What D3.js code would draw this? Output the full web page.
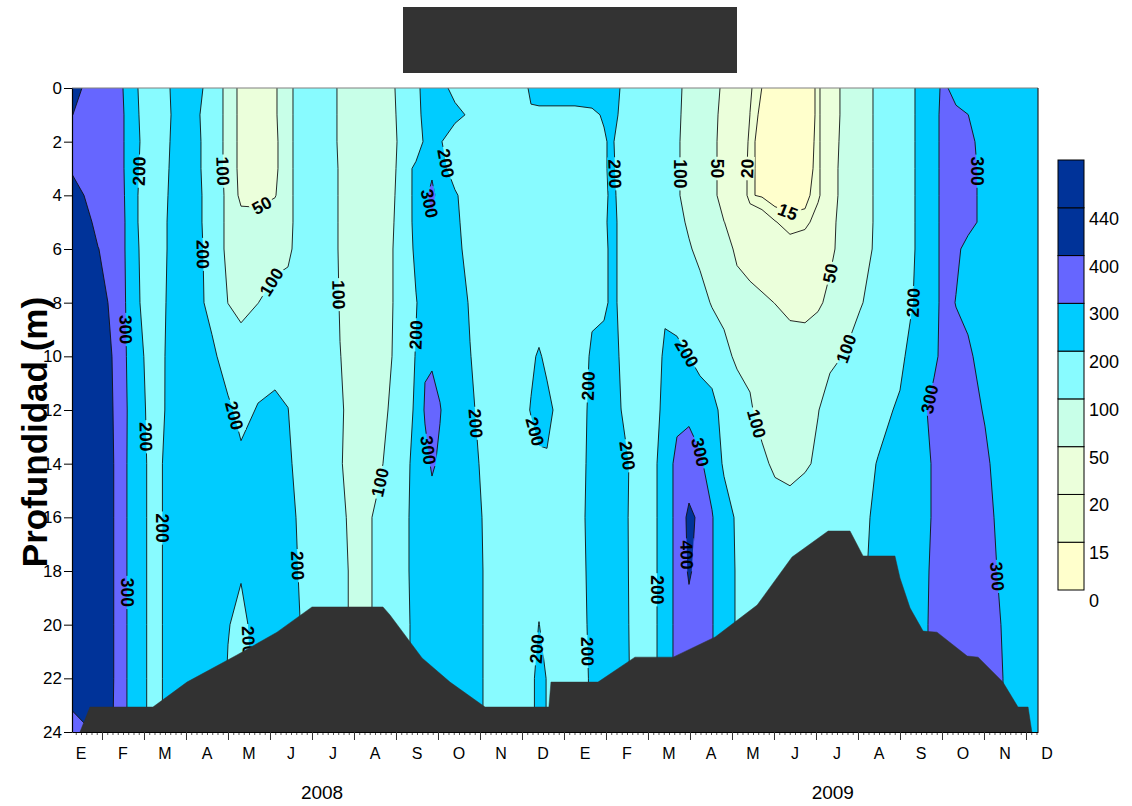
<!DOCTYPE html>
<html>
<head>
<meta charset="utf-8">
<script src="https://cdn.jsdelivr.net/npm/d3@7"></script>
<style>
  body { margin: 0; background: #fff; }
  text { font-family: "Liberation Sans", Arial, Helvetica, sans-serif; }
</style>
</head>
<body>
<svg id="chart" width="1132" height="806"></svg>
<script>
// ---------------------------------------------------------------
// Sampling grid: time in months since 1 Jan 2008, depth in metres
// ---------------------------------------------------------------
const sampleMonths = [
  0.286, 0.905, 1.405, 1.690, 2.214, 3.000,
  3.619, 4.000, 4.310, 4.714, 5.119, 5.429, 5.714, 6.190, 6.667, 7.190,
  7.619, 8.095, 8.476, 8.690, 8.857, 9.048, 9.405, 9.762, 10.119, 10.595,
  11.000, 11.214, 11.405, 11.595, 11.810, 12.262, 12.667, 12.952, 13.143, 13.357, 13.810,
  14.167, 14.405, 14.690, 14.976, 15.238, 15.524, 15.810, 16.119, 16.429, 16.714, 17.024,
  17.381, 17.738, 18.048, 18.333, 18.690, 19.048, 19.476, 20.000, 20.476, 20.810, 21.048,
  21.333, 21.619, 22.024, 22.619, 23.286
];
const sampleDepths = [0, 1, 2, 3, 4, 5, 6, 8, 10, 12, 14, 16, 18, 20, 22, 24];

// measured values, one row per depth (same order as sampleMonths)
const at0m  = [420,368,337.5,224.8,146.8,250, 173.5,66.6,42.6,30,47.4,64.3,150,128,95,75, 80,106.7,168,240,250,240,165,150,150,150, 170,215,230,230,230,230,230,230,230,196.3,150, 150,140,115,79,70,60,45,35,21,14.9,10,8,10,16.5,37.5,56.3,75,109.6,150,216.7,260,326.7,246.7,240,240,240,250];
const at1m  = [401,370,346.8,234.4,139.8,250, 157,74.1,39.3,30,47.4,64.3,150,128,95,75, 80,105,150,240,250,250,230,185,150,150, 165,190,185,185,185,185,190,205,240,180,150, 150,140,110.5,79,70,60,40,35,19.9,12.6,10,8,10,16.5,37.5,56.3,75,109.6,150,216.7,260,340,330,301,250,240,250];
const at2m  = [370,360,345.1,236.9,146.8,250, 163.3,71.2,40.6,30,45.7,64.3,150,128,95,75, 80,103.5,112.6,225,240,210,135,150,150,150, 150,150,150,150,150,150,170,194,210,165,150, 150,140,107,79,70,60,36,35,17.3,11.8,9,7,10,17.2,34,60.7,75,109.6,150,216.7,260,340,340,330,256.8,240,250];
const at3m  = [392,360,352.3,226.9,153,250, 163.3,71.2,40.6,30,45.7,64.3,150,145,95,75, 80,105,231.7,260,280,250,143,150,150,150, 150,150,150,150,150,150,170,191,215,170,150, 150,140,107,79,70,60,36,35,15.5,14.3,8,6,10,18.1,29.5,67.9,75,109.6,150,216.7,260,340,340,330,273.4,240,250];
const at4m  = [430,365,368.1,219.4,158.4,250, 168.7,77.1,41.9,42,48.8,64.3,150,145,95,75, 80,106.7,231.7,280,326.7,255.5,215,140,150,150, 150,150,150,150,150,150,170,185,215,181,150, 150,140,107,79,70,60,36,35,15.5,14.3,11,12,13,18.2,29,68.4,75,109.6,150,216.7,260,340,340,330,273.4,240,250];
const at5m  = [435,389.5,382.6,217.3,163,250, 168.7,77.1,62,60,62,64.3,150,145,95,75, 80,108.6,230.5,270,290,260,225,150,150,150, 150,150,150,150,150,150,170,191,215,188,150, 150,140,115,92.5,80,65,50.5,38,30,25,20.5,16.7,17,24.8,35,72.5,75,109.6,150,216.7,260,340,340,330,273.4,240,250];
const at6m  = [435,401,378.8,221.2,163,250, 173.5,75.5,68,68,70,75,150,145,95,75, 80,110.8,220.6,260,270,260,240,154.3,150,150, 150,150,150,150,150,150,170,185,215,188,150, 150,140,125,105,86.7,78,70,41.1,35,30,28,24,28,35,42,66,80,109.6,150,216.7,260,340,320,270,240,240,250];
const at8m  = [430,404.5,395,222.5,167.5,250, 177.8,99,70,99,130,150,160,150,97.4,75, 80,110.8,195,240,260,260,250,192.3,150,150, 150,150,150,150,150,150,190,185,215,188,150, 150,180,150,130,120,96,85,70,60,55,49.5,40,35,44,59,75,95,125,160,221.5,260,340,296.4,270,240,240,250];
const at10m = [430,406,397,240,171.5,250, 215,167,150,170,175,180,160,150,101,75, 80,113.3,205.8,290,285,270,250,203,158,150, 150,185,210,180,150,160,208.5,230,230,191.4,150, 150,221.4,230,199.5,160,140,115,90.6,80,75,72,70,75,80,90,102.5,130,150,180,260,280,330,340,320,252,240,250];
const at12m = [430,405,398,255,172,250, 250,212.5,180,204.4,215,201,170,150,105,75, 80,130,216,310.5,340,305,230,220,160,150, 170,205,230,225,187.5,170,212.5,240,240,200.5,150, 150,250,260,280,270,240,160,130,110,70,75,75,85,98,122,140,150,175,211.7,270,330,350,350,340,291.4,240,250];
const at14m = [430,406,398,250,180,250, 250,240,215,240,240,215,170,150,103,75, 90,156.7,226,270,312,285,260,240,173.3,150, 150,160,185,190,160,170,216.4,250,250,235,150, 195,220,340,345,310,270,186,160,140,120,82.8,65,90,111.7,140,150,170,203.8,240,270,308.2,340,360,360,320,220,250];
const at16m = [430,406,398,250,180,250, 250,240,230,240,240,230,185,150,110,75, 120,150,238.9,260,260,260,260,250,187.5,150, 150,150,150,150,150,170,221,250,250,230,150, 195,220,340,420,383.3,305,245,186.5,160,150,150,150,150,150,150,160,170,224,250,270,308.2,340,360,360,330,246.7,250];
const at18m = [430,406,398,250,180,250, 250,225,205,240,240,235,193,150,115,75, 120,150,238.9,260,260,260,260,250,192.3,150, 150,150,150,150,150,170,216.4,250,250,232,150, 195,220,340,410,370,305,245,191.8,160,150,150,150,150,150,150,160,180,230,250,270,316.7,340,360,360,330,267.5,250];
const at20m = [430,406,398,250,180,250, 250,203,183.5,223.7,240,240,201,150,115,75, 120,150,230,260,260,260,260,250,192.3,150, 150,150,203,150,150,170,212.5,250,250,235,150, 195,220,340,370,360,305,245,191.8,160,150,150,150,150,150,150,160,180,230,250,270,322.5,340,360,360,330,283,250];
const at22m = [430,406,398,250,180,250, 250,195,175,220,240,240,201,150,115,75, 120,150,230,260,260,260,260,250,192.3,150, 150,170,240,195,150,170,208,250,250,240,150, 195,220,340,370,360,305,245,191.8,160,150,150,150,150,150,150,160,180,230,250,270,322.5,340,360,360,330,288.3,250];
const at24m = [380,405,398,250,180,250, 250,195,175,220,240,240,201,150,115,75, 120,150,230,260,260,260,260,250,192.3,150, 150,170,240,195,150,170,208,250,250,240,150, 195,220,340,370,360,305,245,191.8,160,150,150,150,150,150,150,160,180,230,250,270,322.5,340,360,360,330,288.3,250];
const valueRows = [at0m, at1m, at2m, at3m, at4m, at5m, at6m, at8m, at10m, at12m, at14m, at16m, at18m, at20m, at22m, at24m];

// contour levels and their fill colours
const levels = [0, 15, 20, 50, 100, 200, 300, 400, 440];
const levelColors = ["#ffffcc", "#eeffd4", "#ebffdb", "#c8ffe8", "#88fbff", "#00ccff", "#6666ff", "#003399", "#003399"];

// bottom profile (month, depth)
const floorMonths = [0.476, 0.714, 2.214, 3.024, 4.214, 5.167, 6.0, 7.69, 7.857, 8.62, 9.286, 10.12, 11.64, 11.69, 12.81, 13.69, 14.6, 15.6, 16.6, 17.43, 18.29, 18.81, 19.12, 19.88, 20.0, 20.24, 20.55, 20.88, 21.6, 21.86, 22.45, 22.81, 23.05, 23.14];
const floorDepths = [24.0, 23.07, 23.07, 22.14, 21.13, 20.28, 19.34, 19.34, 19.64, 21.24, 22.14, 23.07, 23.07, 22.14, 22.14, 21.21, 21.21, 20.46, 19.27, 17.48, 16.51, 16.51, 17.44, 17.44, 18.26, 19.38, 20.24, 20.28, 21.17, 21.21, 22.14, 23.07, 23.07, 24.0];

// contour labels: level, month, depth
const labelAnchors = [
  [200, 1.90, 3.1], [100, 3.86, 3.1], [50, 4.76, 4.25], [200, 3.40, 6.2], [100, 5.0, 7.2],
  [300, 1.57, 9.0], [100, 6.67, 7.7], [200, 4.17, 12.2], [200, 2.02, 13.0], [200, 2.45, 16.4],
  [300, 1.62, 18.8], [200, 5.64, 17.8], [200, 4.40, 20.6], [100, 7.62, 14.7], [200, 9.21, 2.8],
  [300, 8.81, 4.3], [200, 8.50, 9.2], [300, 8.76, 13.5], [200, 9.88, 12.5], [200, 11.31, 12.8],
  [200, 11.33, 20.9], [200, 13.17, 3.2], [200, 12.50, 11.1], [200, 13.52, 13.7], [200, 12.50, 21.0],
  [100, 14.76, 3.2], [200, 14.69, 10.1], [200, 14.21, 18.7], [300, 15.17, 13.6], [400, 14.93, 17.4],
  [50, 15.64, 3.0], [20, 16.36, 3.0], [15, 17.31, 4.7], [50, 18.33, 6.9], [100, 18.69, 9.7],
  [100, 16.60, 12.5], [200, 20.31, 8.0], [300, 21.83, 3.1], [300, 20.71, 11.6], [300, 22.33, 18.2]
];

const monthLetters = ["E", "F", "M", "A", "M", "J", "J", "A", "S", "O", "N", "D"];
const years = ["2008", "2009"];
const depthTicks = d3.range(0, 25, 2);

// ---------------------------------------------------------------
const svg = d3.select("#chart");
const plot = { left: 72, right: 1038, top: 88, bottom: 732 };
const labelSize = 17.5;

const x = d3.scaleLinear()
  .domain([sampleMonths[0], sampleMonths[sampleMonths.length - 1]])
  .range([plot.left, plot.right]);
const y = d3.scaleLinear().domain([0, 24]).range([plot.top, plot.bottom]);

const n = sampleMonths.length, m = sampleDepths.length;
const colToMonth = d3.scaleLinear().domain(d3.range(n)).range(sampleMonths);
const rowToDepth = d3.scaleLinear().domain(d3.range(m)).range(sampleDepths);
const toPixel = ([gx, gy]) => [x(colToMonth(gx - 0.5)), y(rowToDepth(gy - 0.5))];

const contours = d3.contours().size([n, m]).thresholds(levels)(valueRows.flat());
const projection = d3.geoTransform({
  point(gx, gy) { const p = toPixel([gx, gy]); this.stream.point(p[0], p[1]); }
});
const path = d3.geoPath(projection);

const defs = svg.append("defs");
defs.append("clipPath").attr("id", "plotClip").append("rect")
  .attr("x", plot.left).attr("y", plot.top)
  .attr("width", plot.right - plot.left).attr("height", plot.bottom - plot.top);

// filled bands
svg.append("g").attr("clip-path", "url(#plotClip)")
  .selectAll("path").data(contours).join("path")
  .attr("d", path)
  .attr("fill", d => levelColors[levels.indexOf(d.value)])
  .attr("stroke", "none");

// label placement on the contour lines
function anchorOnLine(level, month, depth) {
  const c = contours.find(k => k.value === level);
  const tx = x(month), ty = y(depth);
  const inside = p => p[0] > plot.left + 1 && p[0] < plot.right - 1 && p[1] > plot.top + 1 && p[1] < plot.bottom - 1;
  let best = null;
  c.coordinates.forEach(poly => poly.forEach(ring => {
    const pts = ring.map(toPixel);
    for (let i = 0; i < pts.length - 1; i++) {
      const a = pts[i], b = pts[i + 1];
      if (!inside(a) || !inside(b)) continue;
      const dx = b[0] - a[0], dy = b[1] - a[1];
      const L2 = dx * dx + dy * dy;
      if (!L2) continue;
      let u = ((tx - a[0]) * dx + (ty - a[1]) * dy) / L2;
      u = Math.max(0, Math.min(1, u));
      const px = a[0] + u * dx, py = a[1] + u * dy;
      const dist = Math.hypot(px - tx, py - ty);
      if (!best || dist < best.dist) best = { dist, px, py, angle: Math.atan2(dy, dx) * 180 / Math.PI };
    }
  }));
  if (!best) return null;
  let a = best.angle;
  if (a > 90) a -= 180;
  if (a <= -90) a += 180;
  return { x: best.px, y: best.py, angle: a, text: String(level) };
}
const placed = labelAnchors.map(([lv, mo, de]) => anchorOnLine(lv, mo, de)).filter(Boolean);
const gapWidth = d => d.text.length * 0.556 * labelSize + 4;

// gaps in the lines under each label
const mask = defs.append("mask").attr("id", "lineGaps")
  .attr("maskUnits", "userSpaceOnUse").attr("x", 0).attr("y", 0).attr("width", 1132).attr("height", 806);
mask.append("rect").attr("width", 1132).attr("height", 806).attr("fill", "#fff");
mask.selectAll("rect.gap").data(placed).join("rect").attr("class", "gap")
  .attr("x", d => -gapWidth(d) / 2).attr("y", -7.5)
  .attr("width", gapWidth).attr("height", 15)
  .attr("transform", d => `translate(${d.x},${d.y}) rotate(${d.angle})`)
  .attr("fill", "#000");

// contour lines
svg.append("g").attr("clip-path", "url(#plotClip)")
  .append("g").attr("mask", "url(#lineGaps)")
  .selectAll("path").data(contours.filter(d => d.value > 0)).join("path")
  .attr("d", path)
  .attr("fill", "none")
  .attr("stroke", "#111")
  .attr("stroke-width", 0.9)
  .attr("stroke-linejoin", "round");

// contour labels
svg.append("g").attr("clip-path", "url(#plotClip)")
  .selectAll("text").data(placed).join("text")
  .attr("transform", d => `translate(${d.x},${d.y}) rotate(${d.angle})`)
  .attr("text-anchor", "middle")
  .attr("dy", "0.36em")
  .attr("font-size", labelSize)
  .attr("font-weight", "bold")
  .attr("fill", "#000")
  .text(d => d.text);

// sea floor
const floorLine = d3.line().x(d => x(d[0])).y(d => y(d[1]));
svg.append("path").attr("clip-path", "url(#plotClip)")
  .attr("d", floorLine(floorMonths.map((mo, i) => [mo, floorDepths[i]])) + "Z")
  .attr("fill", "#323232").attr("stroke", "#323232").attr("stroke-width", 0.5);

// frame
svg.append("line").attr("x1", plot.left).attr("x2", plot.right).attr("y1", plot.top).attr("y2", plot.top)
  .attr("stroke", "#808080").attr("stroke-width", 1.2);
svg.append("line").attr("x1", plot.right).attr("x2", plot.right).attr("y1", plot.top).attr("y2", plot.bottom)
  .attr("stroke", "#222").attr("stroke-width", 1.2);

// depth axis
const yAxis = svg.append("g").attr("transform", `translate(${plot.left},0)`)
  .call(d3.axisLeft(y).tickValues(depthTicks).tickSize(8).tickSizeOuter(0).tickPadding(2));
yAxis.selectAll("text").attr("font-size", 17).attr("fill", "#000")
  .attr("font-family", "'Liberation Sans', Arial, sans-serif");
yAxis.select(".domain").attr("stroke", "#000").attr("stroke-width", 1.2);

// time axis: minor ticks, then month ticks
const minorMonths = d3.range(Math.ceil(sampleMonths[0] * 8), Math.floor(sampleMonths[n - 1] * 8) + 1).map(k => k / 8);
svg.append("g").attr("transform", `translate(0,${plot.bottom})`)
  .call(d3.axisBottom(x).tickValues(minorMonths).tickSize(3).tickSizeOuter(0).tickFormat(""))
  .call(g => g.select(".domain").remove())
  .selectAll(".tick line").attr("stroke", "#555");
const xAxis = svg.append("g").attr("transform", `translate(0,${plot.bottom})`)
  .call(d3.axisBottom(x).tickValues(d3.range(1, 24)).tickSize(8).tickSizeOuter(0).tickFormat(""));
xAxis.select(".domain").attr("stroke", "#000").attr("stroke-width", 1.2);
xAxis.selectAll(".tick line").attr("stroke", "#333");

const monthLabels = years.flatMap((yr, yi) => monthLetters.map((l, mi) => ({ l, mo: yi * 12 + mi + 0.5 })));
svg.append("g").selectAll("text").data(monthLabels).join("text")
  .attr("x", d => x(d.mo)).attr("y", plot.bottom + 27)
  .attr("text-anchor", "middle").attr("font-size", 16).attr("fill", "#000")
  .text(d => d.l);

svg.append("g").selectAll("text").data(years).join("text")
  .attr("x", (d, i) => x(i === 0 ? 6.24 : 18.4)).attr("y", plot.bottom + 67)
  .attr("text-anchor", "middle").attr("font-size", 19).attr("fill", "#000")
  .text(d => d);

svg.append("text")
  .attr("transform", `translate(${47},${432}) rotate(-90)`)
  .attr("text-anchor", "middle").attr("font-size", 35).attr("font-weight", "bold").attr("fill", "#000")
  .text("Profundidad (m)");

// title block
svg.append("rect").attr("x", 403).attr("y", 7).attr("width", 334).attr("height", 66).attr("fill", "#333333");

// colour bar
const bar = d3.scaleLinear().domain([0, levels.length]).range([590, 160]);
const legend = svg.append("g");
legend.selectAll("rect").data(levels).join("rect")
  .attr("x", 1058).attr("width", 26)
  .attr("y", (d, i) => bar(i + 1)).attr("height", (d, i) => bar(i) - bar(i + 1))
  .attr("fill", (d, i) => levelColors[i])
  .attr("stroke", "#000").attr("stroke-width", 1);
legend.selectAll("text").data(levels).join("text")
  .attr("x", 1089).attr("y", (d, i) => bar(i) + 17)
  .attr("font-size", 18).attr("fill", "#000")
  .text(d => d);
</script>
</body>
</html>
